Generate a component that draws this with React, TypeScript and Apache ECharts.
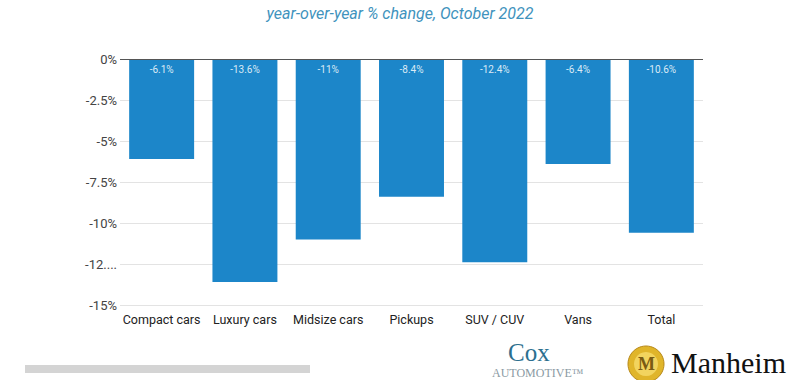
import React, { useEffect, useRef } from "react";
import * as echarts from "echarts";

const categories = ["Compact cars", "Luxury cars", "Midsize cars", "Pickups", "SUV / CUV", "Vans", "Total"];
const values = [-6.1, -13.6, -11, -8.4, -12.4, -6.4, -10.6];
const subtitle = "year-over-year % change, October 2022";

export default function App() {
  const ref = useRef<HTMLDivElement>(null);
  useEffect(() => {
    if (!ref.current) return;
    const chart = echarts.init(ref.current, undefined, { renderer: "svg" });
    chart.setOption({
      animation: false,
      backgroundColor: "#ffffff",
      textStyle: { fontFamily: "Roboto" },
      grid: { left: 120, right: 97, top: 59, bottom: 75 },
      xAxis: {
        type: "category",
        data: categories,
        axisLine: { show: false },
        axisTick: { show: false },
        axisLabel: { color: "#222", fontSize: 12.5, margin: 8, interval: 0, fontFamily: "Roboto" },
      },
      yAxis: {
        type: "value",
        min: -15,
        max: 0,
        interval: 2.5,
        axisLine: { show: false },
        axisTick: { show: false },
        splitLine: { lineStyle: { color: "#e3e3e3", width: 1 } },
        axisLabel: {
          color: "#444",
          fontSize: 13,
          margin: 3,
          fontFamily: "Roboto",
          formatter: (v: number) => (v === -12.5 ? "-12...." : `${v}%`),
        },
      },
      series: [
        {
          type: "bar",
          data: values,
          barWidth: "78%",
          itemStyle: { color: "#1c86c9" },
          label: {
            show: true,
            position: "insideTop",
            distance: 5,
            color: "#dbeaf6",
            fontSize: 10,
            fontFamily: "Roboto",
            formatter: (p: any) => `${p.value}%`,
          },
          markLine: {
            silent: true,
            symbol: "none",
            label: { show: false },
            lineStyle: { color: "#555", type: "solid", width: 1 },
            data: [{ yAxis: 0 }],
          },
        },
      ],
      graphic: [
        {
          type: "text",
          left: "center",
          top: 5,
          style: {
            text: subtitle,
            fill: "#3f93bd",
            font: "italic 16px Roboto",
          },
        },
        {
          type: "rect",
          shape: { x: 25, y: 365, width: 285, height: 8 },
          style: { fill: "#d4d4d4" },
        },
        {
          type: "text",
          x: 508,
          y: 340,
          style: { text: "Cox", fill: "#2d6f8f", font: "25px 'Liberation Serif'", lineHeight: 25 },
        },
        {
          type: "text",
          x: 492,
          y: 367,
          style: { text: "AUTOMOTIVE™", fill: "#8a9aa3", font: "12px 'Liberation Serif'", lineHeight: 12 },
        },
        {
          type: "circle",
          shape: { cx: 646, cy: 364, r: 18 },
          style: { fill: "#e0b52a", stroke: "#b8891a", lineWidth: 1 },
        },
        {
          type: "circle",
          shape: { cx: 646, cy: 364, r: 12 },
          style: { fill: "#f2d45e" },
        },
        {
          type: "text",
          x: 638,
          y: 355,
          style: { text: "M", fill: "#7a5b12", font: "bold 18px 'Liberation Serif'" },
        },
        {
          type: "text",
          x: 671,
          y: 347,
          style: { text: "Manheim", fill: "#111", font: "30px 'Liberation Serif'" },
        },
      ],
    });
    return () => chart.dispose();
  }, []);
  return <div ref={ref} style={{ position: "fixed", left: 0, top: 0, width: 800, height: 380 }} />;
}
